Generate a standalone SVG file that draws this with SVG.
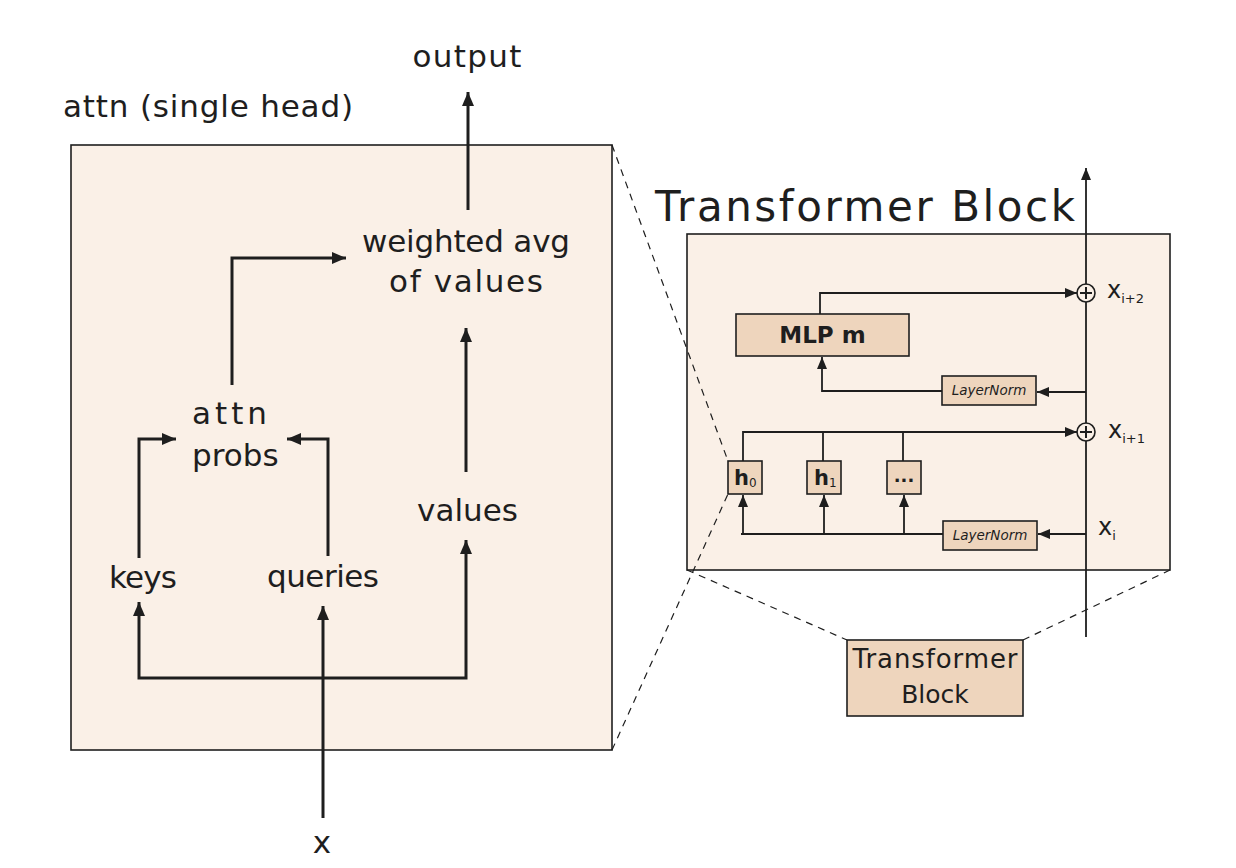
<svg xmlns="http://www.w3.org/2000/svg" width="1236" height="868" viewBox="0 0 1236 868">
<style>
.lbl{font-family:"DejaVu Sans","Liberation Sans",sans-serif;fill:#1e1e1e}
.big{font-size:31px}
.panel{fill:#faf0e7;stroke:#1e1e1e;stroke-width:1.6}
.tan{fill:#eed5bd;stroke:#1e1e1e;stroke-width:1.6}
.c1{fill:none;stroke:#1e1e1e;stroke-width:3;stroke-linejoin:miter}
.c2{fill:none;stroke:#1e1e1e;stroke-width:1.8}
.dash{fill:none;stroke:#1e1e1e;stroke-width:1.2;stroke-dasharray:7 6}
.ln{font-size:13.5px;font-style:italic}
</style>
<defs>
<marker id="a1" markerUnits="userSpaceOnUse" markerWidth="14" markerHeight="12" refX="14" refY="6" orient="auto">
<path d="M0,0 L14,6 L0,12 z" fill="#1e1e1e"/>
</marker>
<marker id="a2" markerUnits="userSpaceOnUse" markerWidth="12" markerHeight="10" refX="12" refY="5" orient="auto">
<path d="M0,0 L12,5 L0,10 z" fill="#1e1e1e"/>
</marker>
</defs>
<rect width="1236" height="868" fill="#ffffff"/>

<g id="attn-panel">
<rect class="panel" x="71" y="145" width="541" height="605"/>
<text class="lbl big" x="63" y="117" textLength="290" lengthAdjust="spacing">attn (single head)</text>
</g>

<g id="tb-panel">
<rect class="panel" x="687" y="234" width="483" height="336"/>
<text class="lbl" x="655" y="221" font-size="42" textLength="420" lengthAdjust="spacing">Transformer Block</text>
</g>

<g id="dashes">
<path class="dash" d="M612,145 L728,461"/>
<path class="dash" d="M612,750 L728,494"/>
<path class="dash" d="M687,570 L847,640"/>
<path class="dash" d="M1023,640 L1170,570"/>
</g>

<g id="connectors">
<path class="c1" d="M468,210 V92" marker-end="url(#a1)"/>
<path class="c1" d="M232,385 V258 H346" marker-end="url(#a1)"/>
<path class="c1" d="M466,472 V328" marker-end="url(#a1)"/>
<path class="c1" d="M139,558 V439 H176" marker-end="url(#a1)"/>
<path class="c1" d="M328,556 V439 H287" marker-end="url(#a1)"/>
<path class="c1" d="M323,818 V606" marker-end="url(#a1)"/>
<path class="c1" d="M323,678 H139 V602" marker-end="url(#a1)"/>
<path class="c1" d="M323,678 H466 V540" marker-end="url(#a1)"/>

<path class="c2" d="M1086,637 V168" marker-end="url(#a2)"/>
<path class="c2" d="M820,314 V293 H1077" marker-end="url(#a2)"/>
<path class="c2" d="M1086,392 H1037" marker-end="url(#a2)"/>
<path class="c2" d="M942,391 H822 V357" marker-end="url(#a2)"/>
<path class="c2" d="M743,461 V432 H1077" marker-end="url(#a2)"/>
<path class="c2" d="M823,461 V432"/>
<path class="c2" d="M903,461 V432"/>
<path class="c2" d="M1086,534 H1038" marker-end="url(#a2)"/>
<path class="c2" d="M943,534 H741"/>
<path class="c2" d="M743,534 V495" marker-end="url(#a2)"/>
<path class="c2" d="M824,534 V495" marker-end="url(#a2)"/>
<path class="c2" d="M904,534 V495" marker-end="url(#a2)"/>
</g>

<g id="output"><text class="lbl big" x="467" y="67" text-anchor="middle" textLength="109" lengthAdjust="spacing">output</text></g>
<g id="weighted-avg">
<text class="lbl big" x="362" y="252" textLength="208" lengthAdjust="spacing">weighted avg</text>
<text class="lbl big" x="389" y="292" textLength="154" lengthAdjust="spacing">of values</text>
</g>
<g id="attn-probs">
<text class="lbl big" x="192" y="424" textLength="75" lengthAdjust="spacing">attn</text>
<text class="lbl big" x="192" y="466">probs</text>
</g>
<g id="values"><text class="lbl big" x="417" y="521" textLength="101" lengthAdjust="spacing">values</text></g>
<g id="keys"><text class="lbl big" x="109" y="588" textLength="68" lengthAdjust="spacing">keys</text></g>
<g id="queries"><text class="lbl big" x="267" y="587" textLength="112" lengthAdjust="spacing">queries</text></g>
<g id="x-input"><text class="lbl big" x="322" y="853" text-anchor="middle">x</text></g>

<g id="mlp">
<rect class="tan" x="736" y="314" width="173" height="42"/>
<text class="lbl" x="822.5" y="343" font-size="23" font-weight="bold" text-anchor="middle">MLP m</text>
</g>
<g id="ln-upper">
<rect class="tan" x="942" y="376" width="94" height="29"/>
<text class="lbl ln" x="989" y="395" text-anchor="middle">LayerNorm</text>
</g>
<g id="ln-lower">
<rect class="tan" x="943" y="521" width="94" height="29"/>
<text class="lbl ln" x="990" y="540" text-anchor="middle">LayerNorm</text>
</g>
<g id="h0">
<rect class="tan" x="728" y="461" width="34" height="33"/>
<text class="lbl" x="734" y="485" font-size="21" font-weight="bold">h<tspan font-size="12" font-weight="normal" dy="2">0</tspan></text>
</g>
<g id="h1">
<rect class="tan" x="807" y="461" width="34" height="33"/>
<text class="lbl" x="814" y="485" font-size="21" font-weight="bold">h<tspan font-size="12" font-weight="normal" dy="2">1</tspan></text>
</g>
<g id="hdots">
<rect class="tan" x="887" y="461" width="34" height="33"/>
<text class="lbl" x="904" y="482" font-size="18" font-weight="bold" text-anchor="middle">...</text>
</g>
<g id="sum-upper">
<circle cx="1086" cy="293" r="9" fill="#faf0e7" stroke="#1e1e1e" stroke-width="1.6"/>
<path d="M1080,293 H1092 M1086,287 V299" stroke="#1e1e1e" stroke-width="2"/>
<text class="lbl" x="1107" y="298" font-size="24">x<tspan font-size="13" dy="5">i+2</tspan></text>
</g>
<g id="sum-lower">
<circle cx="1086" cy="432" r="9" fill="#faf0e7" stroke="#1e1e1e" stroke-width="1.6"/>
<path d="M1080,432 H1092 M1086,426 V438" stroke="#1e1e1e" stroke-width="2"/>
<text class="lbl" x="1108" y="438" font-size="24">x<tspan font-size="13" dy="5">i+1</tspan></text>
</g>
<g id="x-i"><text class="lbl" x="1098" y="535" font-size="24">x<tspan font-size="13" dy="5">i</tspan></text></g>

<g id="tb-small">
<rect class="tan" x="847" y="640" width="176" height="76"/>
<text class="lbl" x="935" y="668" font-size="26" text-anchor="middle" textLength="165" lengthAdjust="spacing">Transformer</text>
<text class="lbl" x="935" y="703" font-size="25" text-anchor="middle">Block</text>
</g>
</svg>
